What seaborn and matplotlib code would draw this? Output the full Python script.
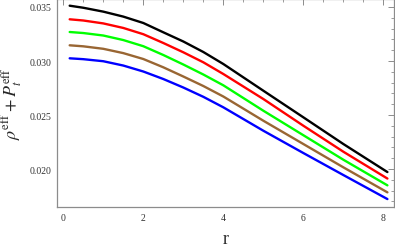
import numpy as np
import pandas as pd
import matplotlib
matplotlib.use('Agg')
import matplotlib.pyplot as plt
from matplotlib.ticker import MultipleLocator
import seaborn as sns

# ── Data ──────────────────────────────────────────────────────────────────────
r_vals = [0.16, 0.5, 1.0, 1.5, 2.0, 2.5, 3.0, 3.5, 4.0, 5.0, 6.0, 7.0, 8.1]

black = [0.035120, 0.034930, 0.034570, 0.034110, 0.033519, 0.032657, 0.031806,
         0.030833, 0.029722, 0.027250, 0.024787, 0.022315, 0.019722]
red   = [0.033861, 0.033750, 0.033480, 0.033060, 0.032481, 0.031667, 0.030806,
         0.029880, 0.028796, 0.026481, 0.024009, 0.021602, 0.019120]
green = [0.032685, 0.032590, 0.032360, 0.031940, 0.031370, 0.030556, 0.029676,
         0.028750, 0.027750, 0.025398, 0.023130, 0.020861, 0.018491]
brown = [0.031454, 0.031360, 0.031130, 0.030730, 0.030185, 0.029417, 0.028565,
         0.027685, 0.026713, 0.024472, 0.022315, 0.020157, 0.017843]
blue  = [0.030250, 0.030170, 0.029980, 0.029580, 0.029028, 0.028333, 0.027546,
         0.026685, 0.025713, 0.023546, 0.021481, 0.019444, 0.017222]

series = {'black': black, 'red': red, 'green': green, 'brown': brown, 'blue': blue}
colors = {'black': '#000000', 'red': '#ff0000', 'green': '#00ff00',
          'brown': '#996633', 'blue': '#0000ff'}

df = pd.concat([pd.DataFrame({'r': r_vals, 'val': v, 'curve': k})
                for k, v in series.items()], ignore_index=True)

# ── Style ─────────────────────────────────────────────────────────────────────
sns.set_style('white')
plt.rcParams['font.family'] = ['Liberation Serif', 'DejaVu Serif']
plt.rcParams['mathtext.fontset'] = 'stix'

fig = plt.figure(figsize=(3.95, 2.51), dpi=100)
ax = fig.add_axes([0.144, 0.171, 0.853, 0.829])

sns.lineplot(data=df, x='r', y='val', hue='curve', palette=colors,
             linewidth=1.7, legend=False, ax=ax)

ax.set_xlim(-0.16, 8.26)
ax.set_ylim(0.01648, 0.03574)
ax.xaxis.set_major_locator(MultipleLocator(2))
ax.xaxis.set_minor_locator(MultipleLocator(0.5))
ax.yaxis.set_major_locator(MultipleLocator(0.005))
ax.yaxis.set_minor_locator(MultipleLocator(0.001))
ax.yaxis.set_major_formatter(matplotlib.ticker.FormatStrFormatter('%.3f'))

frame = '#8c8c8c'
for sp in ax.spines.values():
    sp.set_color(frame)
    sp.set_linewidth(0.9)
ax.tick_params(which='both', direction='in', top=True, right=True,
               color=frame, labelcolor='#333333', labelsize=7, pad=4)
ax.tick_params(which='major', length=4, width=0.7)
ax.tick_params(which='minor', length=2, width=0.6)

ax.set_xlabel('r', fontsize=13, labelpad=6)
ax.set_ylabel(r'$\rho^{\rm eff}+P_t^{\rm eff}$', fontsize=13, labelpad=4)

fig.savefig('out.png', dpi=100)
